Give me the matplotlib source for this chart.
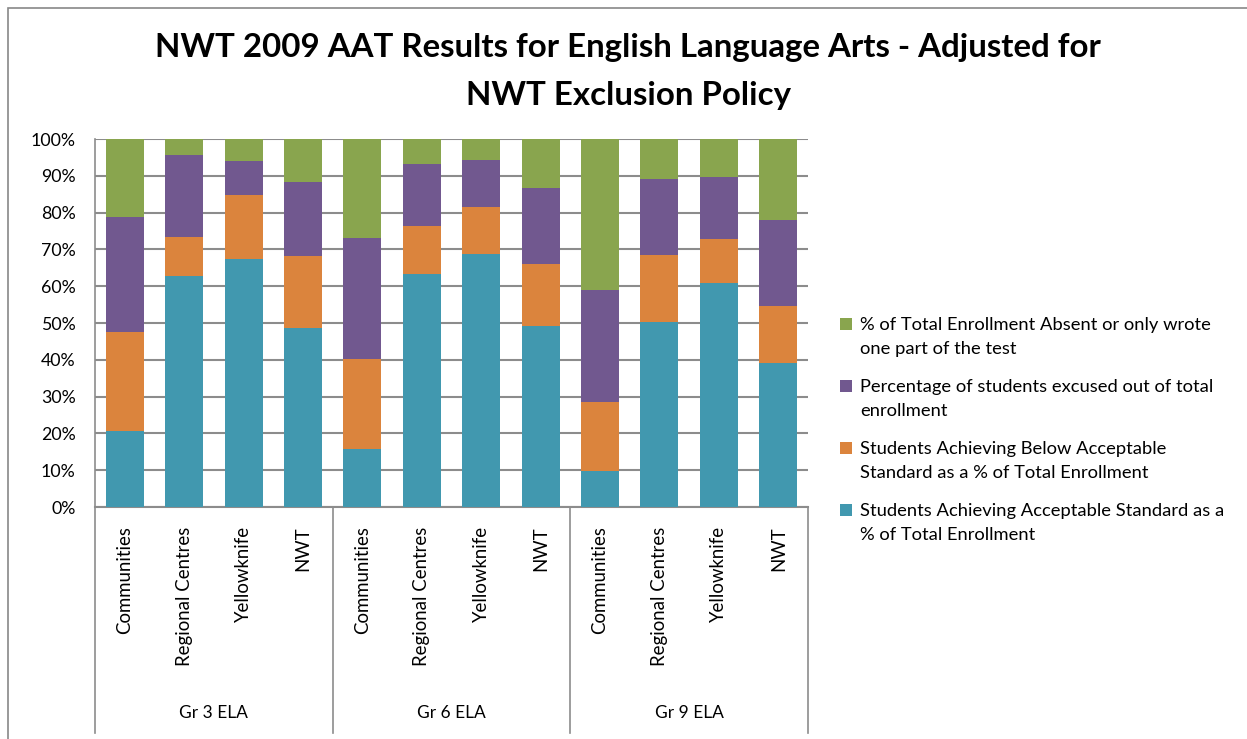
import numpy as np
import matplotlib.pyplot as plt
from matplotlib.patches import Rectangle

plt.rcParams['font.family'] = ['Lato', 'DejaVu Sans']

groups = ['Gr 3 ELA', 'Gr 6 ELA', 'Gr 9 ELA']
places = ['Communities', 'Regional Centres', 'Yellowknife', 'NWT']

# percent of total enrollment, per bar (group by group)
acceptable = [20.6, 62.9, 67.5, 48.7,
              15.7, 63.3, 68.8, 49.1,
              9.7, 50.3, 60.8, 39.0]
below = [26.9, 10.5, 17.3, 19.4,
         24.6, 13.0, 12.6, 16.8,
         18.9, 18.1, 11.9, 15.6]
excused = [31.4, 22.2, 9.2, 20.3,
           32.7, 16.9, 13.0, 20.9,
           30.5, 20.6, 17.1, 23.5]
absent = [21.1, 4.4, 6.0, 11.6,
          27.0, 6.8, 5.6, 13.2,
          40.9, 11.0, 10.2, 21.9]

labels = ['% of Total Enrollment Absent or only wrote\none part of the test',
          'Percentage of students excused out of total\nenrollment',
          'Students Achieving Below Acceptable\nStandard as a % of Total Enrollment',
          'Students Achieving Acceptable Standard as a\n% of Total Enrollment']
colors = ['#89A54E', '#71588F', '#DB843D', '#4198AF']


def main():
    fig = plt.figure(figsize=(12.47, 7.39), dpi=100)
    W, H = 1247, 739
    # chart frame
    fig.patches.append(Rectangle((8 / W, -0.1), 1.2, 1 - 8 / H + 0.1, transform=fig.transFigure,
                                 fill=False, edgecolor='#888888', linewidth=1.2))
    ax = fig.add_axes([95 / W, 1 - 507 / H, (808 - 95) / W, (507 - 139) / H])

    x = np.arange(len(acceptable))
    series = [acceptable, below, excused, absent]
    bottom = np.zeros(len(x))
    bars = []
    for vals, col in zip(series, colors[::-1]):
        b = ax.bar(x, vals, width=0.64, bottom=bottom, color=col, zorder=3)
        bars.append(b)
        bottom += np.array(vals)

    ax.set_xlim(-0.5, len(x) - 0.5)
    ax.set_ylim(0, 100)
    ax.set_yticks(np.arange(0, 101, 10))
    ax.set_yticklabels([f'{v}%' for v in range(0, 101, 10)], fontsize=12.8)
    ax.yaxis.grid(True, color='#8c8c8c', linewidth=1.5, zorder=0)
    ax.tick_params(axis='y', length=0, pad=14)
    for s in ['top', 'right']:
        ax.spines[s].set_visible(False)
    ax.spines['left'].set_color('#8c8c8c')
    ax.spines['bottom'].set_color('#8c8c8c')
    ax.spines['left'].set_linewidth(1.2)
    ax.spines['bottom'].set_linewidth(1.5)

    ax.set_xticks(x)
    ax.set_xticklabels(places * len(groups), rotation=90, fontsize=13.4, va='top')
    ax.tick_params(axis='x', length=0, pad=14)

    # group separators and group labels
    tr = ax.get_xaxis_transform()
    y_low = (507 - 733) / (507 - 139)
    for g in range(len(groups) + 1):
        xp = g * len(places) - 0.5
        ax.plot([xp, xp], [0, y_low], transform=tr, color='#8c8c8c', linewidth=1.2, clip_on=False)
    for g, name in enumerate(groups):
        xc = g * len(places) + (len(places) - 1) / 2
        ax.text(xc, (507 - 713) / (507 - 139), name, transform=tr, ha='center', va='center', fontsize=12.5)

    leg = ax.legend(bars[::-1], labels, loc='upper left', bbox_to_anchor=(833 / W, 1 - 310 / H),
                    bbox_transform=fig.transFigure, frameon=False, fontsize=13.2, handlelength=0.65,
                    handleheight=0.65, handletextpad=0.45, labelspacing=1.2, borderaxespad=0)
    for t in leg.get_texts():
        t.set_linespacing(1.6)
    # put the colour square next to the first line of each label
    for h in leg.legend_handles:
        h.set_y(h.get_y() + 9.4)

    fig.text(628 / W, 1 - 47 / H, 'NWT 2009 AAT Results for English Language Arts - Adjusted for',
             ha='center', va='center', fontsize=23.8, fontweight='bold')
    fig.text(628 / W, 1 - 95 / H, 'NWT Exclusion Policy',
             ha='center', va='center', fontsize=23.8, fontweight='bold')

    fig.savefig('out.png', dpi=100)


if __name__ == "__main__":
    main()
